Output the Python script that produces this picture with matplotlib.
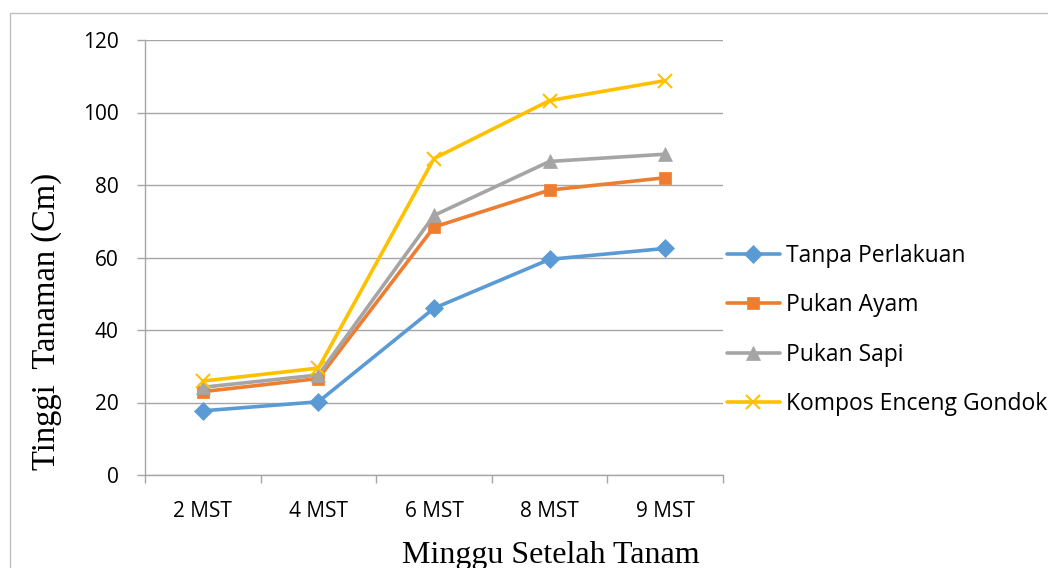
import matplotlib
matplotlib.use("Agg")
import matplotlib.pyplot as plt
from matplotlib.patches import Rectangle
import numpy as np

# Plant height (cm) by weeks after planting
categories = ["2 MST", "4 MST", "6 MST", "8 MST", "9 MST"]
tanpa_perlakuan = [17.7, 20.2, 46.0, 59.5, 62.5]
pukan_ayam = [23.0, 26.6, 68.4, 78.6, 82.0]
pukan_sapi = [24.2, 27.6, 71.6, 86.5, 88.5]
kompos_enceng = [25.9, 29.5, 87.3, 103.3, 108.8]

series = [
    ("Tanpa Perlakuan", tanpa_perlakuan, "#5B9BD5", "D", 9),
    ("Pukan Ayam", pukan_ayam, "#ED7D31", "s", 9),
    ("Pukan Sapi", pukan_sapi, "#A5A5A5", "^", 10),
    ("Kompos Enceng Gondok", kompos_enceng, "#FFC000", "x", 10),
]

W, H = 1048, 568
fig = plt.figure(figsize=(W / 100, H / 100), dpi=100)
ax = fig.add_axes([145 / W, 1 - 475 / H, (723 - 145) / W, (475 - 40) / H])

x = np.arange(len(categories))
for name, vals, color, marker, ms in series:
    ax.plot(x, vals, color=color, lw=2.6, marker=marker, markersize=ms,
            markeredgewidth=1.5 if marker == "x" else 0.5,
            markeredgecolor=color, markerfacecolor=color, label=name,
            solid_capstyle="round", zorder=3)

ax.set_xlim(-0.5, len(categories) - 0.5)
ax.set_ylim(0, 120)
ax.set_yticks(range(0, 121, 20))
ax.yaxis.grid(True, color="#A6A6A6", lw=1.0)
ax.set_axisbelow(True)

ax.set_xticks(x)
ax.set_xticklabels(categories)
ax.set_xticks(np.arange(-0.5, len(categories), 1.0), minor=True)
ax.tick_params(axis="x", which="major", length=0, pad=19, labelsize=15,
               labelcolor="#000000")
ax.tick_params(axis="x", which="minor", length=6, width=1.0, color="#A6A6A6")
ax.tick_params(axis="y", length=6, width=1.0, color="#A6A6A6", pad=13,
               labelsize=15, labelcolor="#000000")
for lab in ax.get_xticklabels() + ax.get_yticklabels():
    lab.set_family("Open Sans")

for side in ("top", "right"):
    ax.spines[side].set_visible(False)
for side in ("left", "bottom"):
    ax.spines[side].set_color("#A6A6A6")
    ax.spines[side].set_linewidth(1.0)

fig.text(47 / W, 1 - 321 / H, "Tinggi  Tanaman (Cm)", rotation=90,
         ha="center", va="center", fontsize=23.5, family="Liberation Serif")
fig.text(551 / W, 1 - 555 / H, "Minggu Setelah Tanam", ha="center",
         va="center", fontsize=23, family="Liberation Serif")

leg = fig.legend(loc="center left", bbox_to_anchor=(727 / W, 1 - 330 / H),
                 frameon=False, borderpad=0, borderaxespad=0,
                 handlelength=2.3, handletextpad=0.26, labelspacing=1.1,
                 prop={"family": "Open Sans", "size": 16.5})

# outer chart frame
fig.patches.append(Rectangle((10 / W, -0.05), 1.1, 1 - 13 / H + 0.05,
                             transform=fig.transFigure, fill=False,
                             edgecolor="#BFBFBF", lw=1.0))

fig.savefig("out.png", dpi=100)
